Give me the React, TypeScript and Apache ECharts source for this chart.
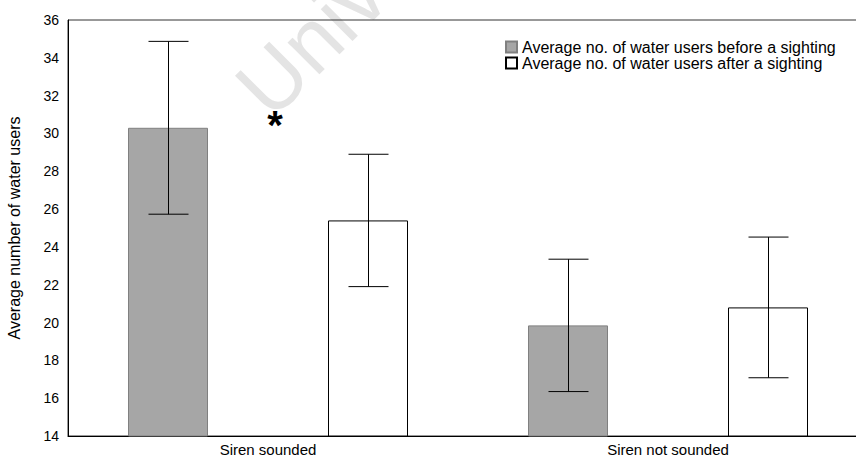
import React, { useEffect, useRef } from "react";
import * as echarts from "echarts";

const categories = ["Siren sounded", "Siren not sounded"];
const seriesNames = [
  "Average no. of water users before a sighting",
  "Average no. of water users after a sighting",
];
const beforeMeans = [30.3, 19.85];
const beforeErrors = [4.57, 3.5];
const afterMeans = [25.4, 20.8];
const afterErrors = [3.5, 3.72];
const yMin = 14;
const yMax = 36;
const yInterval = 2;
const axisTitle = "Average number of water users";
const significanceMark = "*";
const watermark = "University";

const FONT = "'Liberation Sans', Arial, sans-serif";

function errorSeries(name: string, means: number[], errs: number[], offsetFrac: number) {
  return {
    type: "custom",
    name,
    z: 10,
    data: means.map((m, i) => [i, m - errs[i], m + errs[i]]),
    encode: { x: 0, y: [1, 2] },
    renderItem: (params: any, api: any) => {
      const c = api.value(0);
      const lo = api.coord([c, api.value(1)]);
      const hi = api.coord([c, api.value(2)]);
      const band = api.size([1, 0])[0];
      const x = Math.round(lo[0] + band * offsetFrac) + 0.5;
      const half = band * 0.05;
      const st = { stroke: "#000", lineWidth: 1 };
      return {
        type: "group",
        children: [
          { type: "line", shape: { x1: x, y1: hi[1], x2: x, y2: lo[1] }, style: st },
          { type: "line", shape: { x1: x - half, y1: hi[1], x2: x + half, y2: hi[1] }, style: st },
          { type: "line", shape: { x1: x - half, y1: lo[1], x2: x + half, y2: lo[1] }, style: st },
        ],
      };
    },
  };
}

export default function App() {
  const ref = useRef<HTMLDivElement>(null);
  useEffect(() => {
    if (!ref.current) return;
    const chart = echarts.init(ref.current, null, { renderer: "svg" });
    chart.setOption({
      animation: false,
      backgroundColor: "#fff",
      textStyle: { fontFamily: FONT },
      grid: {
        left: 68,
        top: 20,
        width: 800,
        height: 416,
        outerBoundsMode: "none",
        containLabel: false,
        show: true,
        borderColor: "#333",
        borderWidth: 1,
        backgroundColor: "transparent",
      },
      legend: {
        orient: "vertical",
        left: 505,
        top: 39,
        padding: 0,
        itemWidth: 11,
        itemHeight: 11,
        itemGap: 0,
        icon: "rect",
        data: seriesNames,
        textStyle: { fontSize: 16, lineHeight: 15, color: "#000", fontFamily: FONT },
      },
      xAxis: {
        type: "category",
        data: categories,
        axisTick: { show: false },
        axisLine: { lineStyle: { color: "#000" } },
        axisLabel: { color: "#000", fontSize: 15, margin: 6, fontFamily: FONT },
      },
      yAxis: {
        type: "value",
        min: yMin,
        max: yMax,
        interval: yInterval,
        name: axisTitle,
        nameLocation: "middle",
        nameGap: 46,
        nameTextStyle: { color: "#000", fontSize: 16, fontFamily: FONT },
        axisLine: { show: true, lineStyle: { color: "#000" } },
        axisTick: { show: false },
        splitLine: { show: false },
        axisLabel: { color: "#000", fontSize: 14, margin: 9, fontFamily: FONT },
      },
      series: [
        {
          type: "bar",
          name: seriesNames[0],
          data: beforeMeans,
          barWidth: "20%",
          barGap: "150%",
          itemStyle: { color: "#a6a6a6", borderColor: "#808080", borderWidth: 1 },
        },
        {
          type: "bar",
          name: seriesNames[1],
          data: afterMeans,
          barWidth: "20%",
          barGap: "150%",
          itemStyle: { color: "#fff", borderColor: "#000", borderWidth: 1 },
        },
        errorSeries("errBefore", beforeMeans, beforeErrors, -0.25),
        errorSeries("errAfter", afterMeans, afterErrors, 0.25),
      ],
      graphic: [
        {
          type: "text",
          x: 281,
          y: 131,
          rotation: Math.PI / 4,
          z: -10,
          silent: true,
          style: {
            text: watermark,
            fontSize: 85,
            fontFamily: FONT,
            fill: "#e4e4e4",
            align: "left",
            verticalAlign: "bottom",
          },
        },
        {
          type: "text",
          x: 275,
          y: 125,
          z: 20,
          style: {
            text: significanceMark,
            fontSize: 40,
            fontWeight: "bold",
            fontFamily: FONT,
            fill: "#000",
            align: "center",
            verticalAlign: "middle",
          },
        },
      ],
    });
    return () => chart.dispose();
  }, []);
  return (
    <div
      ref={ref}
      style={{ position: "fixed", left: 0, top: 0, width: 856, height: 459 }}
    />
  );
}
